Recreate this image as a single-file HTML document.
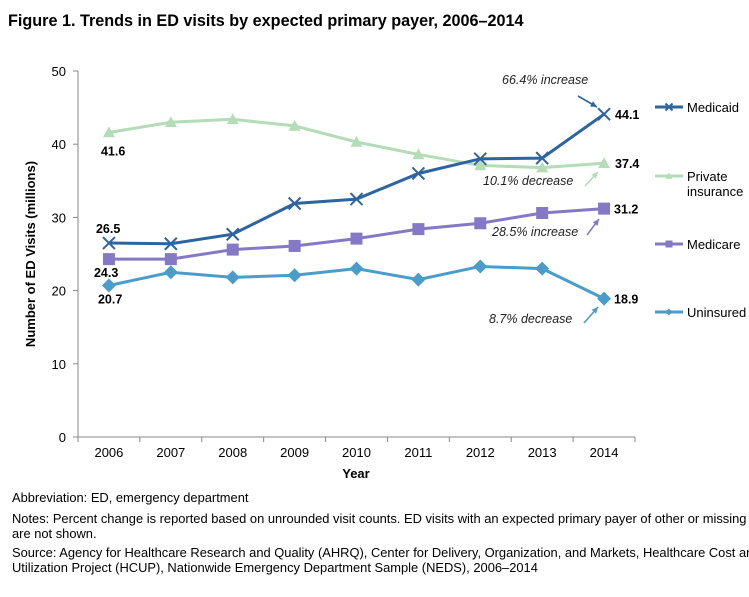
<!DOCTYPE html>
<html><head><meta charset="utf-8"><style>
body{margin:0;background:#fff;font-family:"Liberation Sans",Arial,sans-serif;overflow:hidden;}
svg text{font-family:"Liberation Sans",Arial,sans-serif;}
</style></head><body>
<svg id="chart" width="749" height="592" xmlns="http://www.w3.org/2000/svg">
<text x="8" y="26" font-size="16.2" font-weight="bold" fill="#000">Figure 1. Trends in ED visits by expected primary payer, 2006–2014</text>
<g id="axes"></g>
<g id="series"></g>
<g id="annots"></g>
<g id="legend"></g>
<text x="12" y="502" font-size="12.9">Abbreviation: ED, emergency department</text>
<text x="12" y="523" font-size="12.9">Notes: Percent change is reported based on unrounded visit counts. ED visits with an expected primary payer of other or missing</text>
<text x="12" y="538" font-size="12.9">are not shown.</text>
<text x="12" y="557" font-size="12.9">Source: Agency for Healthcare Research and Quality (AHRQ), Center for Delivery, Organization, and Markets, Healthcare Cost and</text>
<text x="12" y="572" font-size="12.9">Utilization Project (HCUP), Nationwide Emergency Department Sample (NEDS), 2006–2014</text>
</svg>
<script>
const years=[2006,2007,2008,2009,2010,2011,2012,2013,2014];
const yTicks=[0,10,20,30,40,50];
const medicaid=[26.5,26.4,27.7,31.9,32.5,36.0,38.0,38.1,44.1];
const privateIns=[41.6,43.0,43.4,42.5,40.3,38.6,37.1,36.8,37.4];
const medicare=[24.3,24.3,25.6,26.1,27.1,28.4,29.2,30.6,31.2];
const uninsured=[20.7,22.5,21.8,22.1,23.0,21.5,23.3,23.0,18.9];
const NS="http://www.w3.org/2000/svg";
const x0=78,x1=635,yB=437,yT=71;
const step=(x1-x0)/years.length;
const X=i=>x0+step*(i+0.5);
const Y=v=>yB-(v/50)*(yB-yT);
function mk(tag,attrs,parent,txt){const e=document.createElementNS(NS,tag);for(const k in attrs)e.setAttribute(k,attrs[k]);if(txt!==undefined)e.textContent=txt;parent.appendChild(e);return e;}
const axes=document.getElementById('axes');
let e=mk('line',{x1:x0,y1:yT,x2:x0,y2:yB,stroke:'#888','stroke-width':1},axes);


e=mk('line',{x1:x0,y1:yB,x2:x1,y2:yB,stroke:'#888','stroke-width':1},axes);


yTicks.forEach(t=>{
 mk('line',{x1:x0-5,y1:Y(t),x2:x0,y2:Y(t),stroke:'#888'},axes);
 e=mk('text',{x:x0-12,y:Y(t)+5,'font-size':13,'text-anchor':'end'},axes,t);
 
 
});
for(let i=0;i<=years.length;i++)mk('line',{x1:x0+step*i,y1:yB,x2:x0+step*i,y2:yB+5,stroke:'#888'},axes);
years.forEach((yr,i)=>{
 e=mk('text',{x:X(i),y:yB+20,'font-size':13,'text-anchor':'middle'},axes,yr);
 
 
});
e=mk('text',{x:356,y:478,'font-size':13,'font-weight':'bold','text-anchor':'middle'},axes,'Year');


e=mk('text',{x:0,y:0,'font-size':13,'font-weight':'bold','text-anchor':'middle',transform:'translate(35,254) rotate(-90)'},axes,'Number of ED Visits (millions)');



function marker(kind,cx,cy,color,g,s){
 if(kind==='x'){return mk('path',{d:`M${cx-s},${cy-s}L${cx+s},${cy+s}M${cx-s},${cy+s}L${cx+s},${cy-s}`,stroke:color,'stroke-width':2,fill:'none'},g);}
 if(kind==='tri')return mk('path',{d:`M${cx},${cy-s}L${cx+s},${cy+s*0.8}L${cx-s},${cy+s*0.8}Z`,fill:color},g);
 if(kind==='sq')return mk('rect',{x:cx-s,y:cy-s,width:2*s,height:2*s,fill:color},g);
 return mk('path',{d:`M${cx},${cy-s}L${cx+s},${cy}L${cx},${cy+s}L${cx-s},${cy}Z`,fill:color},g);
}
const seriesDefs=[
 {name:'private-insurance',data:privateIns,color:'#b3dcb7',kind:'tri',s:6},
 {name:'medicaid',data:medicaid,color:'#2e64a0',kind:'x',s:6},
 {name:'medicare',data:medicare,color:'#8579c6',kind:'sq',s:6},
 {name:'uninsured',data:uninsured,color:'#4a9ccb',kind:'dia',s:7}
];
const sg=document.getElementById('series');
seriesDefs.forEach(sd=>{
 const g=mk('g',{},sg);
 
 
 const l=mk('polyline',{points:sd.data.map((v,i)=>X(i)+','+Y(v)).join(' '),fill:'none',stroke:sd.color,'stroke-width':3},g);
 
 
 sd.data.forEach((v,i)=>{
  const m=marker(sd.kind,X(i),Y(v),sd.color,g,sd.s);
  
  
 });
});
const an=document.getElementById('annots');
function lab(t,x,y,name,opts){e=mk('text',Object.assign({x:x,y:y,'font-size':12.5,'font-weight':'bold'},opts||{}),an,t);}
const L=years.length-1;
lab(privateIns[0].toFixed(1),X(0)-8,Y(privateIns[0])+23,'label-private-2006');
lab(medicaid[0].toFixed(1),X(0)-13,Y(medicaid[0])-10,'label-medicaid-2006');
lab(medicare[0].toFixed(1),X(0)-15,Y(medicare[0])+18,'label-medicare-2006');
lab(uninsured[0].toFixed(1),X(0)-11,Y(uninsured[0])+18,'label-uninsured-2006');
lab(medicaid[L].toFixed(1),X(L)+11,Y(medicaid[L])+5,'label-medicaid-2014');
lab(privateIns[L].toFixed(1),X(L)+11,Y(privateIns[L])+5,'label-private-2014');
lab(medicare[L].toFixed(1),X(L)+10,Y(medicare[L])+5,'label-medicare-2014');
lab(uninsured[L].toFixed(1),X(L)+10,Y(uninsured[L])+5,'label-uninsured-2014');
function note(t,x,y,name){e=mk('text',{x:x,y:y,'font-size':12.5,'font-style':'italic','fill':'#222'},an,t);}
function arrow(xa,ya,xb,yb,c){mk('line',{x1:xa,y1:ya,x2:xb,y2:yb,stroke:c,'stroke-width':1.6},an);const a=Math.atan2(yb-ya,xb-xa),h=7;mk('path',{d:`M${xb},${yb}L${xb-h*Math.cos(a-0.45)},${yb-h*Math.sin(a-0.45)}L${xb-h*Math.cos(a+0.45)},${yb-h*Math.sin(a+0.45)}Z`,fill:c},an);}
note('66.4% increase',502,84,'medicaid-change-note');
arrow(578,96,597,107,'#2e64a0');
note('10.1% decrease',483,185,'private-change-note');
arrow(585,186,598,172,'#b3dcb7');
note('28.5% increase',492,236,'medicare-change-note');
arrow(587,235,599,219,'#8579c6');
note('8.7% decrease',489,323,'uninsured-change-note');
arrow(584,323,598,307,'#4a9ccb');
const lg=document.getElementById('legend');
const legendItems=[['Medicaid',null,107],['Private','insurance',176],['Medicare',null,244],['Uninsured',null,312]];
const legendSeries=[seriesDefs[1],seriesDefs[0],seriesDefs[2],seriesDefs[3]];
legendItems.forEach((it,i)=>{
 const sd=legendSeries[i];
 const g=mk('g',{},lg);
 
 
 const y=it[2];
 mk('line',{x1:655,y1:y,x2:683,y2:y,stroke:sd.color,'stroke-width':3},g);
 marker(sd.kind,669,y,sd.color,g,3.5);
 mk('text',{x:687,y:y+5,'font-size':13},g,it[0]);
 if(it[1])mk('text',{x:687,y:y+20,'font-size':13},g,it[1]);
});
</script>
</body></html>
